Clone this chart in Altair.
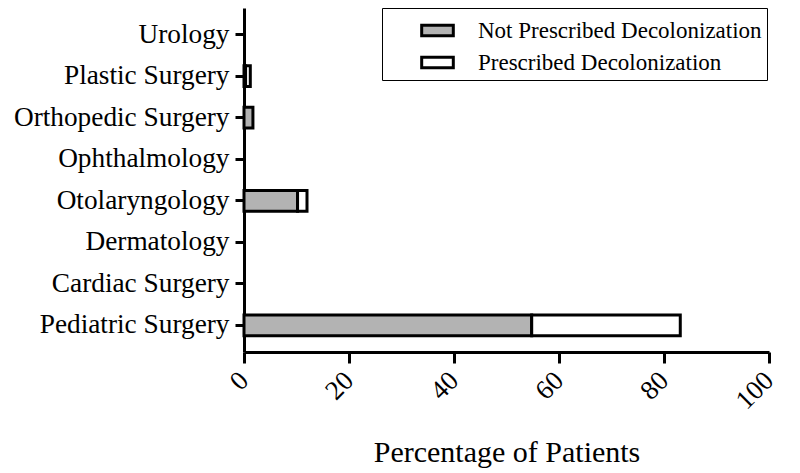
import altair as alt
import pandas as pd

specialties = ["Urology", "Plastic Surgery", "Orthopedic Surgery", "Ophthalmology",
               "Otolaryngology", "Dermatology", "Cardiac Surgery", "Pediatric Surgery"]
not_prescribed = [0, 0.3, 1.7, 0, 10.2, 0, 0, 54.8]
prescribed = [0, 0.9, 0, 0, 1.8, 0, 0, 28.3]
groups = ["Not Prescribed Decolonization", "Prescribed Decolonization"]
x_ticks = [0, 20, 40, 60, 80, 100]

rows = []
for s, a, b in zip(specialties, not_prescribed, prescribed):
    rows.append({"specialty": s, "group": groups[0], "value": a, "ord": 0})
    rows.append({"specialty": s, "group": groups[1], "value": b, "ord": 1})
df = pd.DataFrame(rows)

FONT = "Liberation Serif"

chart = alt.Chart(df).transform_filter(
    alt.datum.value > 0
).mark_bar(stroke="black", strokeWidth=3).encode(
    x=alt.X("value:Q", stack="zero",
            scale=alt.Scale(domain=[0, 100], nice=False),
            axis=alt.Axis(values=x_ticks, title="Percentage of Patients", grid=False,
                          labelAngle=315, labelAlign="right", labelBaseline="middle",
                          labelFontSize=27, labelPadding=13, titleFontSize=30,
                          titlePadding=24, tickSize=11)),
    y=alt.Y("specialty:N", sort=specialties,
            scale=alt.Scale(domain=specialties, paddingInner=0.5, paddingOuter=0.39),
            axis=alt.Axis(title=None, labelFontSize=27.3, labelPadding=6, tickSize=9,
                          labelLimit=0)),
    fill=alt.Fill("group:N", scale=alt.Scale(domain=groups, range=["#b3b3b3", "#ffffff"]),
                  legend=alt.Legend(title=None, orient="none", legendX=138, legendY=0,
                                    strokeColor="black", fillColor="white", padding=5,
                                    symbolType="M-1,-0.33L1,-0.33L1,0.33L-1,0.33Z",
                                    symbolSize=1000, symbolStrokeColor="black",
                                    symbolStrokeWidth=3, symbolOffset=33,
                                    labelFontSize=23, labelFont=FONT, labelColor="black",
                                    labelOffset=23, rowPadding=2, labelLimit=0)),
    order=alt.Order("ord:Q"),
).properties(
    width=525, height=344,
    autosize=alt.AutoSizeParams(type="none"),
    padding={"left": 236, "top": 0, "right": 20, "bottom": 120},
).configure_axis(
    labelFont=FONT, titleFont=FONT, labelColor="black", titleColor="black",
    domainColor="black", tickColor="black", domainWidth=3, tickWidth=3,
    titleFontWeight="normal",
).configure_view(stroke=None)

chart.save("out.html", embed_options={"renderer": "svg", "actions": False})
